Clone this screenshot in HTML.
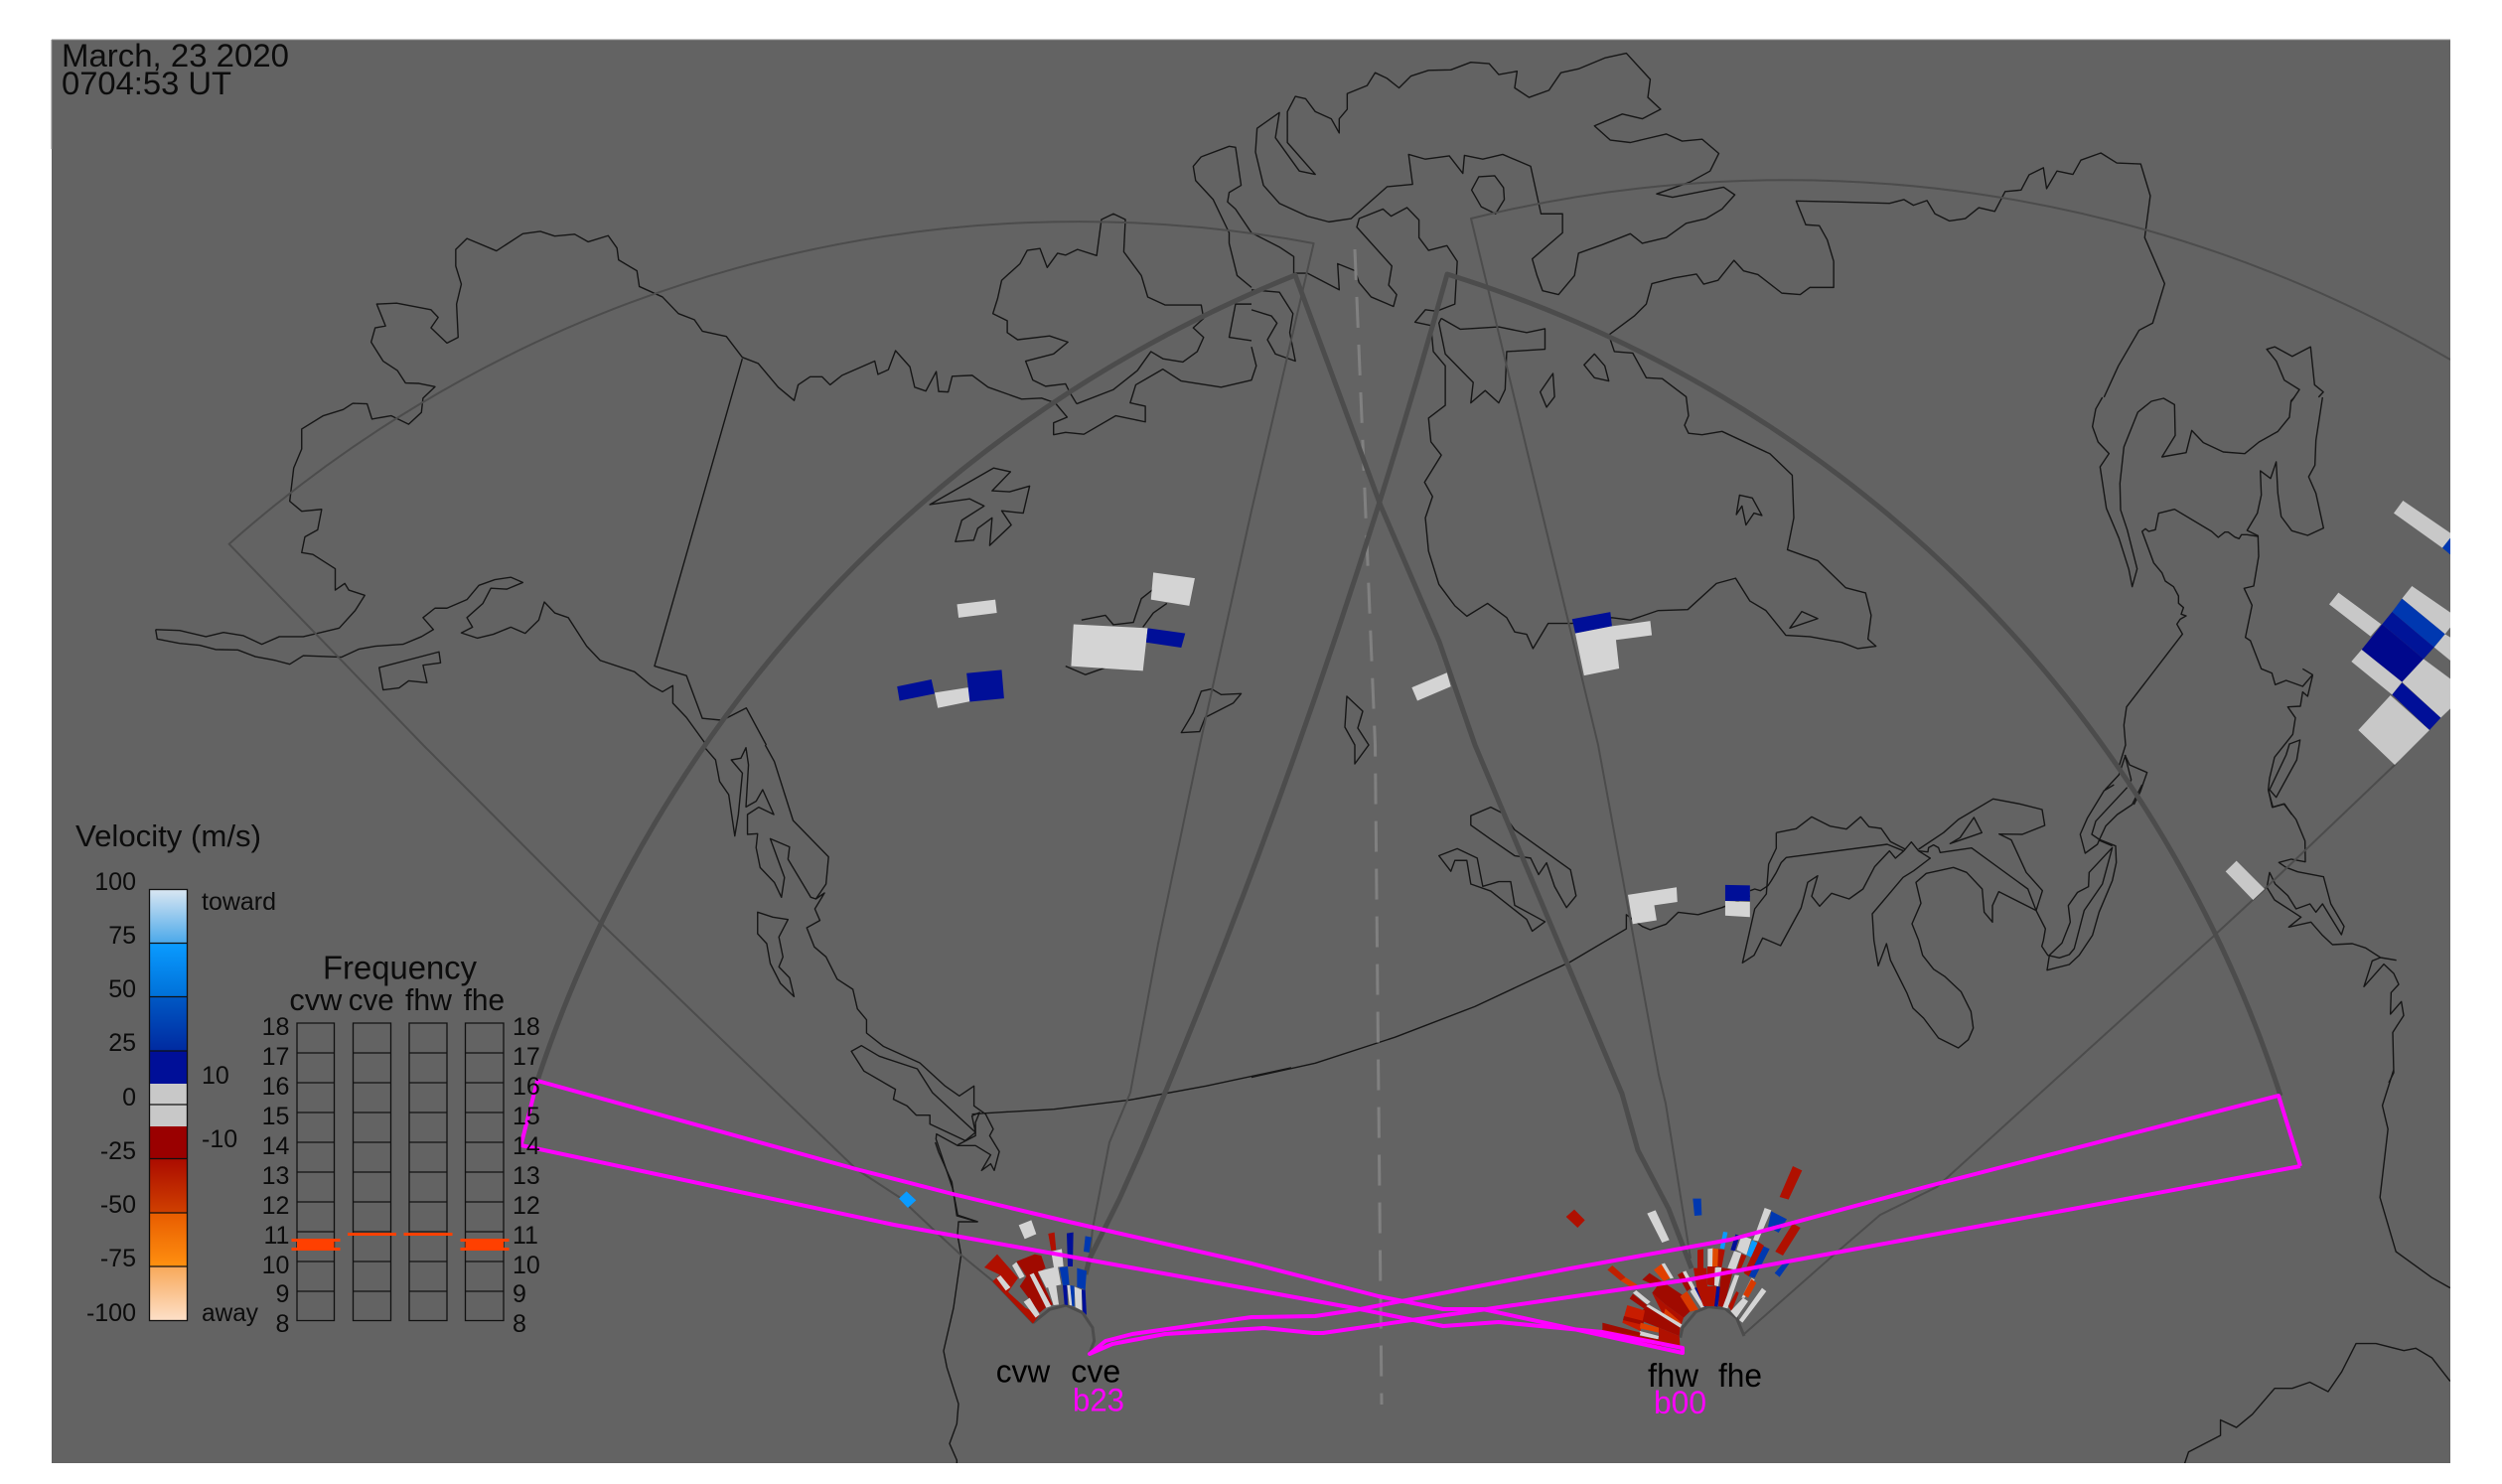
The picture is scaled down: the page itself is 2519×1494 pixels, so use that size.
<!DOCTYPE html>
<html><head><meta charset="utf-8"><style>
html,body{margin:0;padding:0;background:#fff}
svg{display:block}
text{font-family:"Liberation Sans",sans-serif;fill:#0c0c0c}
polyline,polygon,path,line{vector-effect:non-scaling-stroke}
.c polyline,.c polygon{fill:none;stroke:#161616;stroke-width:1.4;stroke-linejoin:round}
.w{fill:#d4d4d4}.r{fill:#b01000}.d{fill:#a00a00}.o{fill:#d83a00}.b{fill:#000f98}.m{fill:#0038b0}.y{fill:#0a9bff}.g{fill:#c8c8c8}
.n{font-size:25px}
.f{font-size:25px}
</style></head><body>
<svg width="2519" height="1494" viewBox="0 0 2519 1494" xmlns="http://www.w3.org/2000/svg">
<defs>
<clipPath id="p"><rect x="52" y="40" width="2415" height="1433"/></clipPath>
<linearGradient id="g1" x1="0" y1="0" x2="0" y2="1"><stop offset="0" stop-color="#d8e6f2"/><stop offset="1" stop-color="#4aa8ea"/></linearGradient>
<linearGradient id="g2" x1="0" y1="0" x2="0" y2="1"><stop offset="0" stop-color="#0a9bff"/><stop offset="1" stop-color="#0070d8"/></linearGradient>
<linearGradient id="g3" x1="0" y1="0" x2="0" y2="1"><stop offset="0" stop-color="#0058c4"/><stop offset="1" stop-color="#002aa0"/></linearGradient>
<linearGradient id="g4" x1="0" y1="0" x2="0" y2="1"><stop offset="0" stop-color="#ab0c00"/><stop offset="1" stop-color="#d04000"/></linearGradient>
<linearGradient id="g5" x1="0" y1="0" x2="0" y2="1"><stop offset="0" stop-color="#e85c00"/><stop offset="1" stop-color="#ff9010"/></linearGradient>
<linearGradient id="g6" x1="0" y1="0" x2="0" y2="1"><stop offset="0" stop-color="#f8a85a"/><stop offset="1" stop-color="#fde0c8"/></linearGradient>
</defs>
<rect x="52" y="40" width="2415" height="1433" fill="#636363"/>
<rect x="52" y="39.5" width="2415" height="1" fill="#8c8c8c"/>
<rect x="51.5" y="40" width="1" height="110" fill="#8c8c8c"/>
<g clip-path="url(#p)">

<!-- coast: zoom 4 -->
<g class="c" transform="scale(.80357,.47832)">
<polyline points="195,1325 197,1345 225,1354 250,1358 270,1367 298,1368 320,1382 345,1390 363,1398 380,1380 428,1383 450,1366 470,1360 505,1356 528,1340 543,1325 530,1300 545,1280 560,1280 585,1262 600,1232 620,1220 640,1215 655,1226 635,1240 615,1238 605,1270 585,1300 592,1320 578,1332 598,1343 618,1335 640,1320 658,1333 675,1305 682,1267 695,1290 712,1300 735,1360 752,1390 795,1414 815,1442 830,1456 843,1443 843,1480 860,1510 885,1568"/>
<polyline points="195,1325 225,1327 258,1340 280,1331 305,1338 328,1356 350,1340 380,1340 425,1322 445,1285 457,1253 437,1242 432,1228 420,1242 420,1197 392,1167 378,1163 382,1130 398,1115 403,1072 378,1076 363,1055 368,985 378,945 378,903 405,875 430,862 442,849 460,850 466,882 490,875 512,893 528,868 530,838 545,814 525,807 508,806 498,780 480,760 465,720 470,690 483,686 472,640 497,638 540,652 549,668 540,690 560,722 574,710 572,640 578,598 571,560 571,525 585,502 622,528 655,492 677,487 695,497 720,493 737,509 762,496 773,522 775,547 798,570 801,603 830,625 850,660 870,673 880,697 910,708 930,752 950,765 975,815 995,843 1000,810 1015,793 1030,793 1040,810 1055,790 1096,760 1100,788 1113,778 1122,738 1140,772 1146,815 1160,823 1173,782 1176,824 1188,825 1193,792 1218,790 1238,815 1280,840 1305,838 1322,848 1337,878 1320,890 1320,915 1335,910 1358,914 1398,875 1435,888 1435,855 1416,848 1423,810 1457,777 1480,802 1530,815 1568,800 1574,770 1568,730"/>
<polyline points="1349,850 1395,820 1425,780 1442,740 1457,755 1482,762 1500,740 1508,710 1495,690 1508,670 1505,642 1460,642 1438,625 1430,580 1408,530 1410,462 1395,450 1380,462 1374,538 1350,525 1335,537 1325,533 1312,563 1303,523 1287,527 1278,555 1255,590 1250,628 1244,660 1262,675 1262,700 1275,715 1315,707 1338,720 1320,745 1285,760 1294,800 1310,813 1335,808 1340,825 1349,850"/>
<polyline points="930,755 820,1402 860,1422 880,1512 905,1516 935,1490 960,1568"/>
<polygon points="475,1405 550,1372 552,1395 530,1400 535,1437 512,1433 500,1448 480,1452"/>
<polygon points="1165,1062 1245,985 1266,993 1243,1033 1265,1035 1290,1023 1282,1080 1255,1075 1267,1105 1240,1148 1243,1090 1225,1112 1220,1137 1197,1140 1205,1095 1233,1065 1215,1050"/>
<polyline points="1335,1402 1360,1420 1385,1405"/>
<polyline points="1355,1305 1385,1295 1395,1315 1420,1310 1430,1260 1445,1240"/>
<polyline points="1432,1320 1445,1290 1462,1270"/>
<polygon points="1480,1542 1495,1500 1505,1455 1518,1450 1530,1462 1555,1460 1545,1480 1510,1510 1503,1540"/>
<polyline points="1505,330 1540,308 1548,310 1555,390 1540,405 1538,425 1548,440 1568,490"/>
<polyline points="1505,330 1495,350 1498,380 1520,420 1540,490 1540,512 1550,580 1568,605"/>
<polyline points="1568,640 1548,640 1540,710 1568,717"/>
</g>

<!-- coast: zoom 5 -->
<g class="c" transform="translate(1260,0) scale(.80293,.47832)">
<polyline points="0,490 35,520 53,540 53,575 70,575 110,610 108,555 130,570 135,595 150,625 178,645 182,620 172,600 176,560 132,478 135,460 165,440 175,455 195,437 210,463 210,500 222,527 245,517 258,550 255,640 232,655 218,652 205,678 225,685 228,740 243,770 243,853 222,880 225,930 238,958 217,1015 227,1045 218,1090 222,1160 235,1230 255,1275 270,1297 296,1270 320,1300 330,1330 345,1335 353,1365 372,1312 402,1312 452,1300 475,1305 510,1285 547,1283 583,1228 607,1217 625,1265 645,1285 670,1337 700,1340 740,1352 760,1365 783,1360 773,1345 777,1295 770,1248 745,1237 710,1180 672,1157 680,1090 678,1000 650,955 590,908 565,915 548,912 543,895 548,875 545,835 515,797 495,795 478,743 455,740 448,705 480,665 495,640 502,597 530,585 558,577 567,598 585,590 605,548 617,570 635,578 665,617 688,620 700,605 730,605 730,550 722,505 712,475 695,473 683,423 740,425 800,428 818,420 830,432 847,422 857,450 875,465 895,460 912,437 932,445 945,403 965,400 975,368 993,353 997,397 1010,360 1030,367 1040,337 1065,322 1085,343 1115,345 1127,412 1120,500 1145,597 1130,680 1113,695 1087,770 1069,836"/>
<polyline points="1304,845 1314,820 1295,800 1285,760 1273,735 1283,730 1305,750 1328,730 1333,810 1344,825 1338,836"/>
<polygon points="7,270 35,237 30,290 60,360 80,367 45,300 45,235 55,203 68,208 80,235 100,250 110,280 110,250 120,230 120,197 145,180 155,153 170,165 185,185 200,160 222,148 250,147 275,131 298,134 310,157 333,150 330,185 348,205 373,190 388,153 410,145 443,122 470,112 500,167 497,205 513,230 490,250 465,240 430,265 450,295 475,300 520,282 540,297 565,293 586,323 575,360 550,383 508,408 528,415 592,394 606,410 590,440 570,460 545,470 520,500 490,512 475,492 440,515 410,533 405,580 385,620 365,612 358,580 352,545 390,490 390,450 363,450 350,350 315,325 290,335 267,327 265,365 248,328 218,335 197,325 202,388 170,393 125,460 97,467 70,455 35,428 15,390 5,320"/>
<polygon points="285,372 305,370 316,395 317,420 306,450 288,435 276,400"/>
<polyline points="0,652 25,665 32,680 20,715 30,745 55,760 48,700 52,660 35,615 0,610"/>
<polyline points="238,670 262,693 310,688 345,700 368,692 368,735 320,740 318,820 310,848 293,822 275,848 278,805 243,745 235,680 238,670"/>
<polygon points="430,745 443,770 448,802 430,795 417,768"/>
<polygon points="378,786 380,835 370,857 362,825"/>
<polygon points="612,1042 628,1048 640,1085 630,1080 620,1105 615,1065 608,1083"/>
<polygon points="675,1322 690,1287 710,1302"/>
</g>

<!-- island mid -->
<g class="c"><polygon points="1356,701 1372,716 1367,733 1378,750 1364,769 1364,750 1354,732"/></g>

<!-- coast: east, upper crop -->
<g class="c" transform="translate(2080,400) scale(.33333)">
<polyline points="110,0 90,35 80,88 97,135 130,170 103,210 122,335 160,425 190,520 200,572 215,518 185,400 165,340 163,260 175,150 217,45 258,12 295,3 328,22 330,115 290,180 363,167 380,100 415,137 475,165 540,170 583,135 640,103 675,60 680,10 690,0"/>
<polyline points="775,0 755,130 752,205 733,240 755,290 778,395 730,417 682,403 650,360 640,290 635,195 618,245 587,222 590,295 578,350 547,402 580,418 582,480 567,570 538,577 562,628 542,725 557,735 590,820 622,833 632,868 665,855 715,873 745,838 715,820"/>
<polyline points="745,840 730,903 715,890 708,933 670,935 693,968 685,1018 630,1087 615,1150 611,1185 625,1238 660,1228 682,1260"/>
<polygon points="675,1047 707,1035 697,1095 635,1208 615,1185 665,1080"/>
<polyline points="580,420 547,415 530,415 523,427 510,422 490,407 480,407 460,423 440,405 328,338 280,350 270,400 250,405 240,397 230,405 265,500 290,530 300,555 325,572 340,600 340,622 355,635 348,655 363,660 345,670 335,685 352,715 183,935 175,990 180,1050 160,1115 190,1175"/>
</g>

<!-- coast: east, lower crop -->
<g class="c" transform="translate(2080,760) scale(.33333)">
<polyline points="180,0 160,60 118,105"/>
<polyline points="178,0 197,75 188,95"/>
<polyline points="178,0 192,30 245,53 225,110 205,150"/>
<polyline points="611,105 623,158 658,148 695,195 722,260 723,323 680,315 643,325 665,340 700,353 778,368 800,450 840,518 832,543 775,450 755,475 737,450 695,465 670,425 632,390 615,355 607,400 630,438 710,490 673,520 740,505 775,545 805,573 865,570 905,583 950,612 998,620"/>
<polyline points="950,612 925,622 900,700 960,632 990,660 1005,693 982,718 980,783 1013,745 1020,787 987,838 990,960 975,990"/>
</g>

<!-- coast: great lakes crop -->
<g class="c" transform="translate(1740,790) scale(.33333)">
<polyline points="66,320 80,315 97,320 120,305 130,290 145,265 160,235 175,220 480,180 530,200"/>
<polyline points="145,145 205,133 252,97 307,125 357,134 400,97 425,127 462,132 490,172 535,195"/>
<polyline points="530,200 505,222 487,200 442,248 407,315 365,345 312,328 276,367 252,337 270,275 240,295 220,372 158,486 104,463 78,515 43,538 80,375 115,330 122,240 145,192 145,145"/>
<polyline points="530,200 553,173 575,200 610,222 560,260 528,280 435,390 440,470 453,547 478,480 490,530 540,630 558,675 590,705 635,765 695,795 725,770 740,735 733,685 703,625 655,580 620,557 587,515 575,470 555,420 582,358 567,295 598,268 680,250 720,265 767,315 773,385 798,415 798,365 817,323 930,380"/>
<polyline points="575,195 650,145 695,105 800,43 880,58 948,75 956,123 888,150 818,149 855,167 900,265 949,320 930,380 905,315 735,191 640,205 635,190 620,182 605,190 603,203 575,200"/>
<polygon points="742,99 766,145 670,178 700,160"/>
<polyline points="930,380 958,435 952,470 947,488 965,515 1000,523 1030,513 1045,495 1075,380 1130,300 1160,190 1090,265 1088,308 1055,325 1027,365 1033,415 1008,478 970,515 963,560 1030,543 1060,515 1100,455 1120,385 1160,290 1172,235 1170,185 1120,165 1098,150 1110,110 1205,8"/>
<polyline points="1160,185 1120,168 1115,180 1078,207 1063,150 1085,100 1135,18 1165,0"/>
<polyline points="1120,168 1140,125 1175,90 1220,60 1250,0"/>
</g>

<!-- coast: zoom 6 -->
<g class="c" transform="translate(1260,750) scale(.80293,.47449)">
<polyline points="1432,690 1418,765 1425,815 1415,960 1435,1075 1480,1130 1503,1152"/>
<polyline points="0,705 80,675 180,620 280,555 400,460 470,390 470,360 490,385 500,392 520,380 535,355 560,360 590,345 625,320"/>
<polygon points="275,150 300,132 315,145 330,180 400,265 407,320 395,345 380,300 370,250 360,275 350,240 330,235 300,200 275,170"/>
<polygon points="235,235 258,220 283,240 290,300 310,290 325,290 330,340 368,375 352,395 345,370 300,310 275,295 270,245 255,245 250,268"/>
<polyline points="1170,1525 1175,1500 1215,1465 1215,1432 1235,1448 1255,1420 1283,1365 1305,1365 1327,1352 1350,1372 1367,1330 1385,1270 1410,1270 1445,1285 1460,1280 1480,1300 1503,1350"/>
</g>

<!-- coast: zoom 7 -->
<g class="c" transform="translate(500,750) scale(.5102,.33333)">
<polyline points="530,0 548,50 585,228 655,338 650,420 630,465 620,460 575,345 578,308 540,283 568,400 562,460 548,415 520,370 512,310 515,268 495,270 495,210 517,188 547,210 525,135 512,170 492,187 497,60 492,8 482,40 463,45 485,85 477,210 470,275 458,150 440,110 432,45 412,10"/>
<polyline points="630,465 647,447 628,495 638,530 612,552 627,610 650,640 672,707 703,738 712,797 730,830 730,870 763,910 835,960 885,1030 913,1060 942,1030 942,1090 965,1115 980,1160 973,1180 992,1228 982,1285 975,1265 957,1285 975,1238 945,1210 910,1210 868,1175 867,1190 900,1340 910,1420 950,1440"/>
<polygon points="515,505 545,520 575,527 557,580 565,640 557,670 578,703 587,760 560,720 540,660 533,600 515,570"/>
<polygon points="700,925 720,908 755,940 830,978 860,1050 945,1170 925,1195 855,1145 855,1118 828,1118 810,1090 783,1070 787,1040 725,985"/>
<polyline points="945,1170 938,1120 953,1110 945,1140 945,1180 910,1208"/>
<polyline points="938,1115 965,1112 1100,1100 1250,1072 1400,1030 1568,975"/>
</g>

<!-- coast: zoom 2 -->
<g class="c" transform="translate(900,1150) scale(.33333)">
<polyline points="125,0 135,30 175,120 190,222 252,240 195,240 192,280 203,340 180,500 150,630 160,680 195,790 190,850 168,910 190,960 190,1000"/>
</g>

<!-- FOV lines -->
<polyline fill="none" stroke="#808080" stroke-width="3" stroke-dasharray="31 17" points="1364,251 1384.5,750 1391,1414"/>
<g fill="none" stroke="#4c4c4c" stroke-linejoin="round">
<path stroke-width="2" d="M1040 1332L1000 1290L967 1263L940 1238L905 1205L862 1177L605.6 930L426 750L230.6 547.7A1289 1289 0 0 1 1322.6 245L1260 514L1208 750L1166 950L1138 1100L1117 1150L1100 1237L1097 1267"/>
<path stroke-width="2" d="M1702 1267L1677 1111L1670 1082L1609 750L1481 220A1324 1324 0 0 1 2467 362"/>
<polyline stroke-width="2" points="2467,695 2411,770 2280,895 2228,943 2080,1077 1950,1195 1893,1223 1850,1260 1756,1343"/>
<path stroke-width="5" d="M541 1088A1322 1322 0 0 1 1304 277L1390 509L1449 646L1485 750L1577 968L1633 1101L1649 1158L1680 1217L1703 1277"/>
<path stroke-width="5" d="M2296 1103A1281 1281 0 0 0 1457 276A7300 7300 0 0 1 1148 1160L1127 1207L1097 1267L1093 1283"/>
</g>

<!-- radar data -->
<g transform="scale(.80357,.47832)">
<polygon class="w" points="1445,1205 1497,1217 1490,1275 1442,1262"/>
<polygon class="w" points="1199,1272 1247,1262 1249,1290 1201,1300"/>
<polygon class="w" points="1345,1314 1438,1322 1432,1412 1342,1402"/>
<polygon class="b" points="1438,1322 1485,1333 1480,1363 1436,1352"/>
<polygon class="b" points="1124,1445 1167,1430 1171,1460 1127,1475"/>
<polygon class="w" points="1171,1458 1213,1447 1216,1476 1175,1490"/>
<polygon class="b" points="1211,1417 1255,1410 1258,1470 1215,1477"/>
</g>
<g transform="translate(1260,0) scale(.80293,.47832)">
<polygon class="b" points="402,1303 450,1288 452,1318 406,1333"/>
<polygon class="w" points="406,1333 452,1318 500,1307 502,1337 457,1347 461,1407 417,1422"/>
<polygon class="w" points="201,1447 245,1416 250,1445 208,1475"/>
</g>
<g transform="translate(2080,400) scale(.33333)">
<polygon class="g" points="990,350 1018,312 1161,410 1161,425 1137,455"/>
<polygon class="m" points="1137,455 1161,425 1161,475"/>
<polygon class="g" points="795,625 823,590 952,685 920,722"/>
<polygon class="g" points="1015,608 1045,570 1161,650 1161,695 1145,715"/>
<polygon class="m" points="985,648 1015,608 1145,715 1112,755"/>
<polygon fill="#001498" points="955,685 985,648 1112,755 1080,790"/>
<polygon fill="#00088c" points="893,762 955,685 1080,790 1015,860"/>
<polygon class="g" points="862,798 893,762 1015,860 985,898"/>
<polygon class="g" points="1112,755 1145,715 1161,725 1161,795"/>
<polygon class="g" points="1015,860 1080,790 1161,850 1161,940 1132,968"/>
<polygon class="b" points="985,898 1015,862 1132,968 1098,1005"/>
<polygon class="g" points="883,1005 980,900 1098,1005 993,1110"/>
</g>
<g transform="translate(2080,760) scale(.33333)">
<polygon class="g" points="482,352 515,320 600,405 565,438"/>
</g>
<g transform="translate(1260,750) scale(.80293,.47449)">
<polygon class="w" points="472,318 533,302 534,333 505,340 508,372 478,380"/>
<polygon class="b" points="594,297 625,298 625,331 594,331"/>
<polygon class="w" points="594,331 625,333 625,365 594,362"/>
</g>

<!-- cve wedge -->
<g transform="translate(900,1150) scale(.33333)">
<polyline fill="none" stroke="#4c4c4c" stroke-width="3" points="420,545 470,505 520,492 570,515 600,560 605,600 590,640"/>
<polygon class="r" points="273,378 312,338 375,410 345,452 397,500 440,520 420,548 298,420 320,400"/>
<polygon class="d" points="370,360 425,338 445,342 458,380 435,395 480,490 460,498 440,515 380,435 400,405"/>
<polygon class="w" points="357,372 370,362 395,405 380,412"/>
<polygon class="w" points="310,410 322,402 352,438 338,448"/>
<polygon class="w" points="392,482 410,470 440,520 428,530"/>
<polygon class="w" points="410,400 422,395 475,495 460,500"/>
<polygon class="w" points="435,390 495,375 505,430 470,437 460,440"/>
<polygon class="w" points="475,330 507,322 512,375 483,378"/>
<polygon class="w" points="465,437 490,432 498,490 482,492"/>
<polygon class="r" points="466,276 485,272 490,325 475,327"/>
<polygon class="b" points="522,275 542,272 540,375 525,375"/>
<polygon class="m" points="578,283 597,287 590,333 573,330"/>
<polygon class="w" points="377,250 415,235 430,277 395,292"/>
<polygon class="m" points="500,378 525,375 530,430 510,433"/>
<polygon class="m" points="553,380 582,388 578,445 553,437"/>
<polygon class="b" points="510,432 523,432 525,492 515,490"/>
<polygon class="w" points="523,432 532,432 540,493 530,492"/>
<polygon class="m" points="532,432 545,434 545,496 538,494"/>
<polygon class="w" points="545,436 567,445 568,508 548,498"/>
<polygon class="b" points="567,445 578,445 582,522 570,510"/>
<polygon class="y" points="38,148 67,175 42,198 15,170"/>
</g>

<!-- fhw/fhe wedge, outer pieces -->
<g transform="translate(1550,1150) scale(.33333)">
<polygon class="w" points="645,295 680,198 700,205 660,298"/>
<polygon class="m" points="690,255 700,208 747,232 722,273"/>
<polygon class="r" points="725,165 765,72 793,85 752,173"/>
<polygon class="r" points="712,330 765,245 788,258 735,342"/>
<polygon class="m" points="710,395 745,355 755,365 725,407"/>
<polygon class="m" points="463,170 488,170 490,220 468,222"/>
<polygon class="w" points="325,215 350,205 392,295 370,303"/>
<polygon class="r" points="80,225 105,203 137,235 115,258"/>
</g>
<!-- fhw/fhe wedge, core -->
<g transform="translate(1620,1230) scale(.33333)">
<polyline fill="none" stroke="#4c4c4c" stroke-width="3" points="215,350 222,320 262,272 300,257 350,262 385,290 408,345"/>
<polygon fill="#c02000" points="-5,145 10,132 50,168 35,178"/>
<polygon class="o" points="35,178 50,168 85,190 70,200"/>
<polygon fill="#e04000" points="135,145 158,128 185,170 165,180"/>
<polygon class="w" points="158,128 168,125 195,170 185,172"/>
<polygon class="d" points="100,175 122,155 220,220 250,265 225,290 170,250 130,215 145,195"/>
<polygon class="d" points="207,160 225,150 250,200 235,210"/>
<polygon class="w" points="222,152 232,148 260,200 250,205"/>
<polygon class="o" points="215,225 235,210 270,265 245,272"/>
<polygon class="w" points="245,210 258,200 292,255 278,260"/>
<polygon class="b" points="258,200 265,198 295,255 288,257"/>
<polygon class="r" points="267,85 285,82 285,140 295,140 297,195 318,195 318,255 285,255 265,200 255,140 267,140"/>
<polygon class="w" points="298,82 315,80 315,135 298,135"/>
<polygon fill="#e04a00" points="313,80 330,82 330,135 312,135"/>
<polygon class="r" points="330,82 350,85 340,138 328,135"/>
<polygon class="r" points="297,135 325,135 320,195 297,190"/>
<polygon class="w" points="320,138 340,138 330,195 318,192"/>
<polygon class="r" points="318,195 338,197 328,257 318,255"/>
<polygon class="b" points="325,195 338,197 328,257 318,255"/>
<polygon class="d" points="340,138 375,145 347,258 330,255"/>
<polygon class="w" points="380,160 393,162 358,262 343,258"/>
<polygon class="w" points="358,140 378,88 400,95 382,145"/>
<polygon class="r" points="385,147 400,97 415,103 395,150"/>
<polygon class="b" points="367,85 382,38 395,42 380,88"/>
<polygon class="w" points="385,85 400,42 430,52 415,100"/>
<polygon class="y" points="335,80 345,30 358,32 348,82"/>
<polygon class="y" points="415,100 432,55 450,65 430,108"/>
<polygon class="m" points="422,165 458,70 485,82 440,170"/>
<polygon class="r" points="407,155 450,60 468,72 422,165"/>
<polygon class="r" points="360,255 385,210 392,215 370,270"/>
<polygon class="w" points="367,270 405,230 420,240 385,290"/>
<polygon class="w" points="400,230 430,170 440,175 410,230"/>
<polygon class="o" points="405,220 430,172 445,185 420,230"/>
<polygon class="w" points="393,297 462,200 475,210 403,305"/>
<polygon class="r" points="130,215 170,250 225,290 215,320 165,285"/>
<polygon class="o" points="170,262 215,302 216,312 165,280"/>
<polygon class="d" points="103,265 112,255 215,320 212,345 150,320 100,300"/>
<polygon fill="#c81c00" points="40,305 55,252 108,268 95,330"/>
<polygon class="d" points="45,285 105,300 103,312 42,297"/>
<polygon fill="#e04000" points="95,305 150,320 150,335 93,322"/>
<polygon class="w" points="93,330 150,345 148,355 90,342"/>
<polygon class="w" points="72,215 82,207 125,242 115,250"/>
<polygon class="d" points="62,232 72,218 115,252 105,262"/>
<polygon class="w" points="112,255 120,250 220,310 215,320"/>
<polygon class="r" points="150,320 212,345 215,380 150,375"/>
<polygon class="d" points="-20,305 95,335 92,345 150,355 150,375 -20,345"/>
<polygon class="r" points="-20,325 95,345 150,358 150,375 -20,345"/>
</g>

<!-- magenta beams -->
<g fill="none" stroke="#ff00ff" stroke-width="4" stroke-linejoin="round">
<polyline points="524.5,1153 541,1088 862,1177 959,1202 1076,1230 1260,1272 1388,1305 1453,1318 1493,1318 1694,1362 1694,1357 1669,1352 1613,1341 1509,1331 1453,1335 1364,1317 1260,1298 900,1233 524.5,1153"/>
<polyline points="2316,1174 2294,1103 1942,1194 1742,1248 1581,1277 1364,1319 1324,1325 1260,1326 1140,1343 1113,1350 1097,1363 1120,1353 1173,1343 1273,1337 1322,1342 1332,1342 1421,1329 1702,1288 1854,1260 2087,1217 2316,1174"/>
</g>
</g>

<!-- text: time -->
<text x="62" y="67" font-size="32" textLength="229" lengthAdjust="spacingAndGlyphs">March, 23 2020</text>
<text x="62" y="95" font-size="32.5" textLength="171" lengthAdjust="spacingAndGlyphs">0704:53 UT</text>

<!-- colour bar -->
<text x="76" y="852" font-size="31" textLength="187" lengthAdjust="spacingAndGlyphs">Velocity (m/s)</text>
<rect x="151" y="896" width="37.5" height="54" fill="url(#g1)"/>
<rect x="151" y="950" width="37.5" height="54" fill="url(#g2)"/>
<rect x="151" y="1004" width="37.5" height="54" fill="url(#g3)"/>
<rect x="151" y="1058" width="37.5" height="33" fill="#000f98"/>
<rect x="151" y="1091" width="37.5" height="43" fill="#c8c8c8"/>
<rect x="151" y="1134" width="37.5" height="33" fill="#9a0000"/>
<rect x="151" y="1167" width="37.5" height="54" fill="url(#g4)"/>
<rect x="151" y="1221" width="37.5" height="54" fill="url(#g5)"/>
<rect x="151" y="1275" width="37.5" height="54.5" fill="url(#g6)"/>
<rect x="150.5" y="895.5" width="38" height="434" fill="none" stroke="#111" stroke-width="1.3"/>
<g stroke="#111" stroke-width="1.3">
<line x1="150.5" x2="188.5" y1="949.5" y2="949.5"/><line x1="150.5" x2="188.5" y1="1003.5" y2="1003.5"/><line x1="150.5" x2="188.5" y1="1058" y2="1058"/><line x1="150.5" x2="188.5" y1="1112" y2="1112"/><line x1="150.5" x2="188.5" y1="1166.5" y2="1166.5"/><line x1="150.5" x2="188.5" y1="1221" y2="1221"/><line x1="150.5" x2="188.5" y1="1275" y2="1275"/>
</g>
<g class="n" text-anchor="end">
<text x="137" y="896">100</text><text x="137" y="950">75</text><text x="137" y="1004">50</text><text x="137" y="1058">25</text><text x="137" y="1113">0</text><text x="137" y="1167">-25</text><text x="137" y="1221">-50</text><text x="137" y="1275">-75</text><text x="137" y="1330">-100</text>
</g>
<text class="n" x="203" y="1091">10</text>
<text class="n" x="203" y="1155">-10</text>
<text x="203" y="916" font-size="25" textLength="75" lengthAdjust="spacingAndGlyphs">toward</text>
<text x="203" y="1330" font-size="25" textLength="57" lengthAdjust="spacingAndGlyphs">away</text>

<!-- frequency -->
<text x="325" y="985.5" font-size="33" textLength="155" lengthAdjust="spacingAndGlyphs">Frequency</text>
<text x="291.4" y="1017" font-size="31" textLength="53" lengthAdjust="spacingAndGlyphs">cvw</text>
<text x="350.7" y="1017" font-size="31" textLength="46" lengthAdjust="spacingAndGlyphs">cve</text>
<text x="408" y="1017" font-size="31" textLength="47" lengthAdjust="spacingAndGlyphs">fhw</text>
<text x="466.6" y="1017" font-size="31" textLength="41.5" lengthAdjust="spacingAndGlyphs">fhe</text>
<g fill="none" stroke="#111" stroke-width="1.3">
<path d="M299 1030H336.5V1329.5H299ZM299 1060H336.5M299 1090H336.5M299 1120H336.5M299 1150H336.5M299 1180H336.5M299 1210H336.5M299 1240H336.5M299 1270H336.5M299 1300H336.5"/>
<path d="M355.5 1030H393.5V1329.5H355.5ZM355.5 1060H393.5M355.5 1090H393.5M355.5 1120H393.5M355.5 1150H393.5M355.5 1180H393.5M355.5 1210H393.5M355.5 1240H393.5M355.5 1270H393.5M355.5 1300H393.5"/>
<path d="M412 1030H450V1329.5H412ZM412 1060H450M412 1090H450M412 1120H450M412 1150H450M412 1180H450M412 1210H450M412 1240H450M412 1270H450M412 1300H450"/>
<path d="M468.5 1030H507V1329.5H468.5ZM468.5 1060H507M468.5 1090H507M468.5 1120H507M468.5 1150H507M468.5 1180H507M468.5 1210H507M468.5 1240H507M468.5 1270H507M468.5 1300H507"/>
</g>
<g fill="#ff4000">
<rect x="293.5" y="1247" width="49" height="3"/><rect x="293.5" y="1256" width="49" height="3"/><rect x="299" y="1247" width="37.5" height="12"/>
<rect x="463.5" y="1247" width="49" height="3"/><rect x="463.5" y="1256" width="49" height="3"/><rect x="468.5" y="1247" width="38.5" height="12"/>
<rect x="350" y="1241" width="49" height="3"/><rect x="406.5" y="1241" width="49" height="3"/>
</g>
<g class="f" text-anchor="end">
<text x="291.4" y="1042">18</text><text x="291.4" y="1072">17</text><text x="291.4" y="1102">16</text><text x="291.4" y="1132">15</text><text x="291.4" y="1162">14</text><text x="291.4" y="1192">13</text><text x="291.4" y="1222">12</text><text x="291.4" y="1252">11</text><text x="291.4" y="1282">10</text><text x="291.4" y="1311">9</text><text x="291.4" y="1341">8</text>
</g>
<g class="f">
<text x="516" y="1042">18</text><text x="516" y="1072">17</text><text x="516" y="1102">16</text><text x="516" y="1132">15</text><text x="516" y="1162">14</text><text x="516" y="1192">13</text><text x="516" y="1222">12</text><text x="516" y="1252">11</text><text x="516" y="1282">10</text><text x="516" y="1311">9</text><text x="516" y="1341">8</text>
</g>

<!-- radar labels -->
<text x="1002.7" y="1391.7" font-size="32" textLength="54.5" lengthAdjust="spacingAndGlyphs" style="fill:#000">cvw</text>
<text x="1078.3" y="1391.7" font-size="32" textLength="50" lengthAdjust="spacingAndGlyphs" style="fill:#000">cve</text>
<text x="1080" y="1420.7" font-size="32" textLength="52" lengthAdjust="spacingAndGlyphs" style="fill:#ff00ff">b23</text>
<text x="1659" y="1396" font-size="33" textLength="51" lengthAdjust="spacingAndGlyphs" style="fill:#000">fhw</text>
<text x="1730" y="1396" font-size="33" textLength="44" lengthAdjust="spacingAndGlyphs" style="fill:#000">fhe</text>
<text x="1665" y="1423" font-size="32" textLength="53" lengthAdjust="spacingAndGlyphs" style="fill:#ff00ff">b00</text>
</svg>
</body></html>
